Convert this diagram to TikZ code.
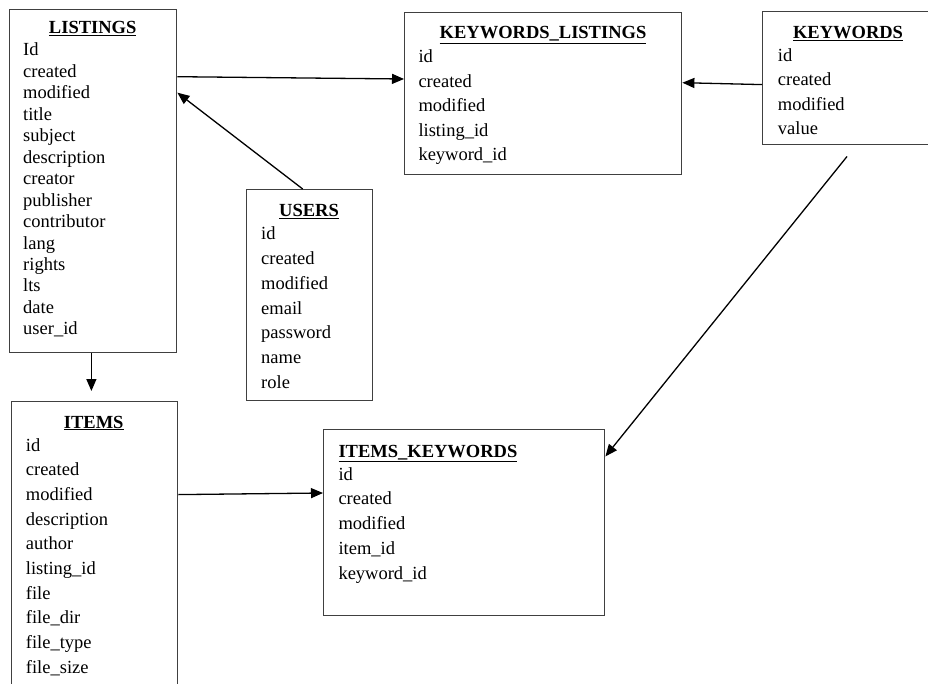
\documentclass[tikz,border=0pt]{standalone}
\usepackage{fontspec}
\setmainfont{Liberation Serif}
\usetikzlibrary{arrows.meta}

\begin{document}
\begin{tikzpicture}[x=1pt, y=-1pt, every node/.style={font=\fontsize{18.5}{22}\selectfont}, >={Triangle[length=12pt, width=10pt]},
	tbl/.style={draw=black!75, line width=1.4pt, anchor=north west, inner sep=0pt},
	ttl/.style={anchor=base, inner sep=0pt, font=\fontsize{18.5}{22}\selectfont\bfseries},
	fld/.style={anchor=base west, inner sep=0pt},
	link/.style={->, line width=1.3pt}]
	\clip (0,0) rectangle (928,684);
	\fill[white] (0,0) rectangle (928,684);
	% tables
	\node[tbl, minimum width=167pt, minimum height=343pt] (listings) at (9,9) {};
	\node[tbl, minimum width=126pt, minimum height=211pt] (users) at (246,189) {};
	\node[tbl, minimum width=277pt, minimum height=162pt] (kl) at (404,12) {};
	\node[tbl, minimum width=180pt, minimum height=133pt] (kw) at (762,11) {};
	\node[tbl, minimum width=166pt, minimum height=310pt] (items) at (11,401) {};
	\node[tbl, minimum width=281pt, minimum height=186pt] (ik) at (323,429) {};
	% titles
	\node[ttl] (listings-t) at (92.7,34) {\underline{LISTINGS}};
	\node[ttl] (users-t) at (309,216.5) {\underline{USERS}};
	\node[ttl] (kl-t) at (543,39) {\underline{KEYWORDS\_LISTINGS}};
	\node[ttl] (kw-t) at (848,39) {\underline{KEYWORDS}};
	\node[ttl] (items-t) at (93.7,428) {\underline{ITEMS}};
	\node[ttl, anchor=base west] (ik-t) at (338.3,457) {\underline{ITEMS\_KEYWORDS}};
	% fields
	\foreach \f [count=\i] in {Id,created,modified,title,subject,description,creator,publisher,contributor,lang,rights,lts,date,user\_id}
		\node[fld] (listings-\i) at (23,{56+21.45*(\i-1)}) {\f};
	\foreach \f [count=\i] in {id,created,modified,email,password,name,role}
		\node[fld] (users-\i) at (261,{240+24.7*(\i-1)}) {\f};
	\foreach \f [count=\i] in {id,created,modified,listing\_id,keyword\_id}
		\node[fld] (kl-\i) at (418.3,{62.7+24.5*(\i-1)}) {\f};
	\foreach \f [count=\i] in {id,created,modified,value}
		\node[fld] (kw-\i) at (777.7,{61.7+24.2*(\i-1)}) {\f};
	\foreach \f [count=\i] in {id,created,modified,description,author,listing\_id,file,file\_dir,file\_type,file\_size}
		\node[fld] (items-\i) at (25.7,{451+24.67*(\i-1)}) {\f};
	\foreach \f [count=\i] in {id,created,modified,item\_id,keyword\_id}
		\node[fld] (ik-\i) at (338.3,{480+24.9*(\i-1)}) {\f};
	% links
	\coordinate (kw-tail) at (847,156.5);
	\draw[link] ([yshift=-67.7pt]listings.north east) -- ([yshift=-67pt]kl.north west);
	\draw[link] ([xshift=-7pt]users.north) -- ([yshift=-83.7pt]listings.north east);
	\draw[link] ([yshift=-73.6pt]kw.north west) -- ([yshift=-70.7pt]kl.north east);
	\draw[link, shorten >=10pt] ([xshift=-1.8pt]listings.south) -- ([xshift=-3.3pt]items.north);
	\draw[link] (kw-tail) -- ([yshift=-27.4pt]ik.north east);
	\draw[link] ([yshift=-93.6pt]items.north east) -- ([yshift=-64pt]ik.north west);
\end{tikzpicture}
\end{document}
